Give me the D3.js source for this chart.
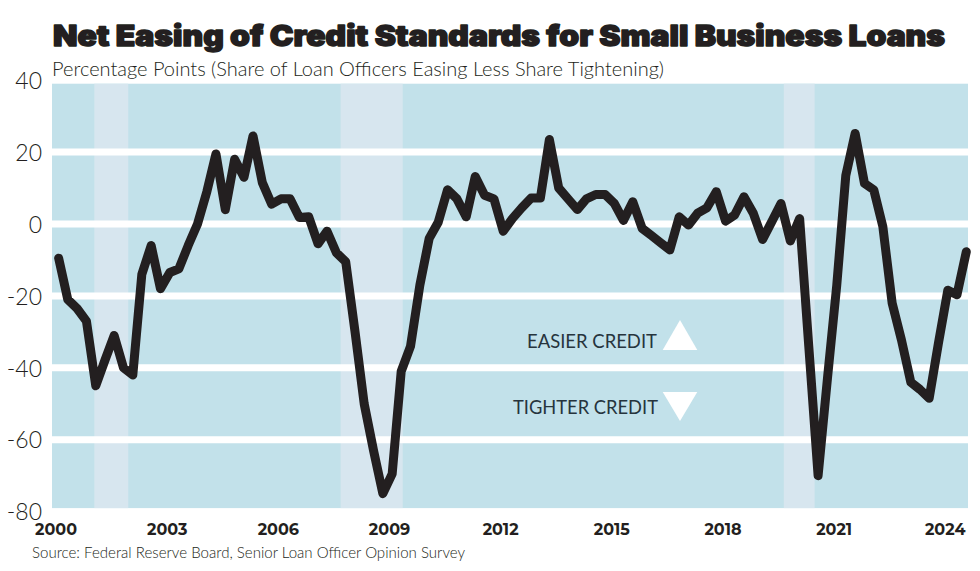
<!DOCTYPE html>
<html>
<head>
<meta charset="utf-8">
<script src="https://cdn.jsdelivr.net/npm/d3@7"></script>
<style>
  html, body { margin: 0; padding: 0; background: #ffffff; }
  svg { display: block; }
</style>
</head>
<body>
<svg id="chart" width="980" height="571"></svg>
<script>
// ---------- DATA ----------
const title = "Net Easing of Credit Standards for Small Business Loans";
const subtitle = "Percentage Points (Share of Loan Officers Easing Less Share Tightening)";
const source = "Source: Federal Reserve Board, Senior Loan Officer Opinion Survey";

// survey months (quarterly SLOOS)
const surveyDates = [
  "2000-02","2000-05","2000-08","2000-11","2001-02","2001-05","2001-08","2001-11",
  "2002-02","2002-05","2002-08","2002-11","2003-02","2003-05","2003-08","2003-11",
  "2004-02","2004-05","2004-08","2004-11","2005-02","2005-05","2005-08","2005-11",
  "2006-02","2006-05","2006-08","2006-11","2007-02","2007-05","2007-08","2007-11",
  "2008-02","2008-05","2008-08","2008-11","2009-02","2009-05","2009-08","2009-11",
  "2010-02","2010-05","2010-08","2010-11","2011-02","2011-05","2011-08","2011-11",
  "2012-02","2012-05","2012-08","2012-11","2013-02","2013-05","2013-08","2013-11",
  "2014-02","2014-05","2014-08","2014-11","2015-02","2015-05","2015-08","2015-11",
  "2016-02","2016-05","2016-08","2016-11","2017-02","2017-05","2017-08","2017-11",
  "2018-02","2018-05","2018-08","2018-11","2019-02","2019-05","2019-08","2019-11",
  "2020-02","2020-05","2020-08","2020-11","2021-02","2021-05","2021-08","2021-11",
  "2022-02","2022-05","2022-08","2022-11","2023-02","2023-05","2023-08","2023-11",
  "2024-02","2024-05","2024-08"
];
const netEasing = [
  -9.5, -21, -23.5, -27, -45, -38, -31, -40,
  -42, -14, -6, -18, -13.5, -12.5, -6, 0,
  9, 19.5, 4, 18, 13, 24.5, 11.5, 5.5,
  7, 7, 1.8, 2, -5.5, -2, -8, -10.5,
  -30, -50, -63, -75, -69.5, -41, -34, -17,
  -4, 0.5, 9.5, 7, 2, 13.2, 8, 7,
  -2, 1.5, 4.5, 7.2, 7.2, 23.5, 10, 7,
  4, 7, 8.2, 8.2, 5.7, 1, 6.2, -1.2,
  -3.2, -5.2, -7.2, 2, -0.3, 3, 4.5, 9,
  0.8, 2.5, 7.6, 3, -4.3, 0.6, 5.7, -4.7,
  1.5, -34, -70, -43, -17, 13.5, 25.2, 11.3,
  9.5, -0.7, -22, -32.3, -44, -46, -48.5, -33,
  -18.4, -19.7, -7.7
];

// recession shading bands (start, end)
const recessions = [
  ["2001-01-18", "2001-12-18"],
  ["2007-09-12", "2009-05-16"],
  ["2019-08-29", "2020-06-28"]
];

const yTicks = [40, 20, 0, -20, -40, -60, -80];
const xTickYears = [2000, 2003, 2006, 2009, 2012, 2015, 2018, 2021, 2024];
const annotations = ["EASIER CREDIT", "TIGHTER CREDIT"];

// ---------- LAYOUT ----------
const svg = d3.select("#chart");
const plotLeft = 52, plotRight = 968;
const gap = 7;

const parseYM = d3.timeParse("%Y-%m");
const parseYMD = d3.timeParse("%Y-%m-%d");

const x = d3.scaleTime()
  .domain([new Date(2000, 0, 1), new Date(2024, 0, 1)])
  .range([55.5, 55.5 + 24 * 37.05]);

const y = d3.scaleLinear()
  .domain([-80, 40])
  .range([511.6, 80.2]);

const data = surveyDates.map((d, i) => ({ date: parseYM(d), value: netEasing[i] }));

// background
svg.append("rect")
  .attr("x", plotLeft)
  .attr("y", y(40) + gap / 2)
  .attr("width", plotRight - plotLeft)
  .attr("height", y(-80) - y(40) - gap)
  .attr("fill", "#c2e1ea");

// recession shading
svg.append("g").selectAll("rect")
  .data(recessions)
  .join("rect")
  .attr("x", d => x(parseYMD(d[0])))
  .attr("width", d => x(parseYMD(d[1])) - x(parseYMD(d[0])))
  .attr("y", y(40) + gap / 2)
  .attr("height", y(-80) - y(40) - gap)
  .attr("fill", "#d7e6ef");

// white gridlines
svg.append("g").selectAll("line")
  .data(yTicks.filter(t => t !== 40 && t !== -80))
  .join("line")
  .attr("x1", plotLeft)
  .attr("x2", plotRight)
  .attr("y1", d => y(d))
  .attr("y2", d => y(d))
  .attr("stroke", "#ffffff")
  .attr("stroke-width", gap);

// y axis labels
const yAxis = d3.axisLeft(y).tickValues(yTicks).tickSize(0).tickPadding(0).tickFormat(d => String(d));
const yg = svg.append("g").attr("transform", "translate(42,0)").call(yAxis);
yg.select(".domain").remove();
yg.selectAll("text")
  .attr("font-family", "Lato, 'Open Sans', sans-serif")
  .attr("font-weight", 300)
  .attr("font-size", 23)
  .attr("fill", "#231f20")
  .attr("dy", "0.36em");

// x axis labels
const xAxis = d3.axisBottom(x)
  .tickValues(xTickYears.map(yv => new Date(yv, 0, 1)))
  .tickSize(0).tickPadding(0)
  .tickFormat(d3.timeFormat("%Y"));
const xg = svg.append("g").attr("transform", "translate(0,535)").call(xAxis);
xg.select(".domain").remove();
xg.selectAll("text")
  .attr("font-family", "Montserrat, 'Open Sans', sans-serif")
  .attr("font-weight", 700)
  .attr("font-size", 16)
  .attr("fill", "#231f20")
  .attr("dy", 0)
  .attr("y", 0);

// annotations
const ann = svg.append("g");
ann.append("text")
  .attr("x", 657).attr("y", 348)
  .attr("text-anchor", "end")
  .attr("font-family", "Lato, sans-serif").attr("font-weight", 400)
  .attr("font-size", 20).attr("fill", "#26343d")
  .attr("textLength", 130).attr("lengthAdjust", "spacingAndGlyphs")
  .text(annotations[0]);
ann.append("text")
  .attr("x", 658).attr("y", 414)
  .attr("text-anchor", "end")
  .attr("font-family", "Lato, sans-serif").attr("font-weight", 400)
  .attr("font-size", 20).attr("fill", "#26343d")
  .attr("textLength", 145).attr("lengthAdjust", "spacingAndGlyphs")
  .text(annotations[1]);
ann.append("path")
  .attr("d", "M662.7,350 L680,320 L697.3,350 Z")
  .attr("fill", "#ffffff");
ann.append("path")
  .attr("d", "M662.7,392 L697.3,392 L680,421 Z")
  .attr("fill", "#ffffff");

// the line
const line = d3.line()
  .x(d => x(d.date))
  .y(d => y(d.value));

svg.append("path")
  .datum(data)
  .attr("d", line)
  .attr("fill", "none")
  .attr("stroke", "#231f20")
  .attr("stroke-width", 9)
  .attr("stroke-linejoin", "round")
  .attr("stroke-linecap", "round");

// titles
svg.append("text")
  .attr("x", 53).attr("y", 46)
  .attr("font-family", "Inter, Lato, sans-serif")
  .attr("font-weight", 900)
  .attr("font-size", 28)
  .attr("fill", "#231f20")
  .attr("stroke", "#231f20")
  .attr("stroke-width", 1.4)
  .attr("stroke-linejoin", "round")
  .attr("textLength", 892).attr("lengthAdjust", "spacingAndGlyphs")
  .text(title);

svg.append("text")
  .attr("x", 52).attr("y", 76)
  .attr("font-family", "Lato, 'Open Sans', sans-serif")
  .attr("font-weight", 300)
  .attr("font-size", 19)
  .attr("fill", "#231f20")
  .attr("textLength", 612).attr("lengthAdjust", "spacingAndGlyphs")
  .text(subtitle);

svg.append("text")
  .attr("x", 32).attr("y", 558)
  .attr("font-family", "Lato, 'Open Sans', sans-serif")
  .attr("font-weight", 300)
  .attr("font-size", 15)
  .attr("fill", "#231f20")
  .attr("textLength", 433).attr("lengthAdjust", "spacingAndGlyphs")
  .text(source);
</script>
</body>
</html>
